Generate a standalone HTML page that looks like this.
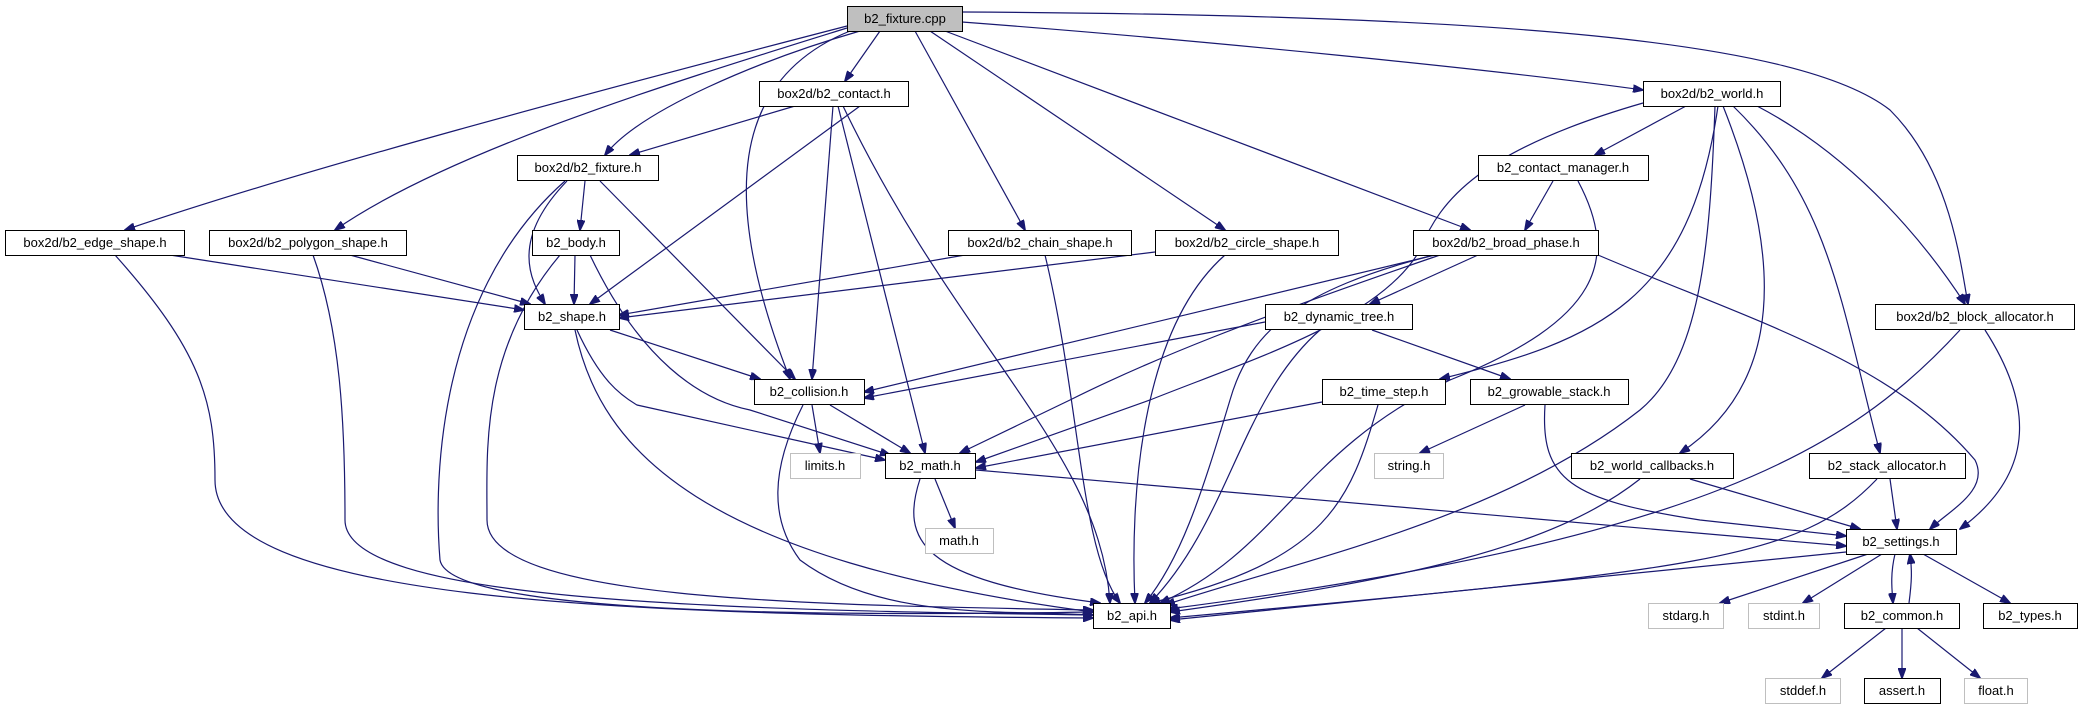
<!DOCTYPE html>
<html><head><meta charset="utf-8"><style>
html,body{margin:0;padding:0;background:#fff;}
svg{display:block;}
text{font-family:"Liberation Sans",sans-serif;font-size:13px;fill:#000;text-anchor:middle;}
</style></head><body>
<svg width="2078" height="709" viewBox="0 0 2078 709" xmlns="http://www.w3.org/2000/svg">
<defs>
<marker id="a" markerWidth="11" markerHeight="8" refX="10" refY="4" orient="auto" markerUnits="userSpaceOnUse">
<path d="M0,0 L11,4 L0,8 z" fill="#191970" stroke="#191970"/>
</marker>
</defs>
<g fill="none" stroke="#191970" stroke-width="1.2" marker-end="url(#a)">
<path d="M880,31 L845,81"/>
<path d="M962,22 C1200,40 1500,70 1643,90"/>
<path d="M860,31 C760,60 640,110 605,155"/>
<path d="M847,26 C600,90 300,170 125,230"/>
<path d="M847,28 C680,80 450,150 335,230"/>
<path d="M915,31 L1025,230"/>
<path d="M930,31 L1225,230"/>
<path d="M945,31 L1470,230"/>
<path d="M962,12 C1500,15 1800,40 1890,110 C1950,170 1960,260 1968,304"/>
<path d="M850,31 C730,80 720,200 790,379"/>
<path d="M795,106 L630,155"/>
<path d="M860,106 L590,304"/>
<path d="M833,106 L812,379"/>
<path d="M838,106 L925,453"/>
<path d="M843,106 C960,350 1100,450 1110,603"/>
<path d="M585,181 L580,230"/>
<path d="M567,181 C510,240 530,280 545,304"/>
<path d="M600,181 L795,379"/>
<path d="M565,181 C430,300 435,500 440,560 C450,620 900,615 1093,612"/>
<path d="M170,255 L524,310"/>
<path d="M115,255 C200,350 215,400 215,480 C215,600 600,615 1093,618"/>
<path d="M350,255 L530,304"/>
<path d="M313,255 C340,330 345,420 345,520 C345,600 700,610 1093,615"/>
<path d="M575,255 L574,304"/>
<path d="M590,255 C640,360 700,400 750,410 L890,455"/>
<path d="M560,255 C480,350 487,450 487,520 C487,600 800,605 1093,610"/>
<path d="M965,255 L619,315"/>
<path d="M1045,255 C1080,400 1080,550 1120,603"/>
<path d="M1155,252 L619,318"/>
<path d="M1225,255 C1140,330 1130,500 1135,603"/>
<path d="M1478,255 L1370,304"/>
<path d="M1435,255 L864,392"/>
<path d="M1440,255 C1250,320 1150,360 1070,400 L960,453"/>
<path d="M1430,256 C1300,290 1250,330 1230,400 C1200,500 1180,560 1145,603"/>
<path d="M1265,322 L864,398"/>
<path d="M1320,330 C1240,400 1230,520 1150,603"/>
<path d="M1372,330 L1510,379"/>
<path d="M1686,106 L1595,155"/>
<path d="M1643,103 C1480,150 1440,200 1420,250 C1380,320 1250,360 1150,400 L976,462"/>
<path d="M1718,106 C1690,300 1600,340 1440,379"/>
<path d="M1715,106 C1710,250 1700,360 1640,410 C1500,520 1300,560 1165,605"/>
<path d="M1723,106 C1800,300 1760,400 1680,453"/>
<path d="M1733,106 C1830,200 1840,300 1880,453"/>
<path d="M1757,106 C1860,160 1930,250 1965,304"/>
<path d="M1553,181 L1525,230"/>
<path d="M1578,181 C1620,260 1600,320 1450,380 C1300,450 1280,550 1160,603"/>
<path d="M1598,255 C1750,320 1890,360 1975,460 C1990,490 1950,510 1930,529"/>
<path d="M1985,330 C2030,400 2040,470 1960,529"/>
<path d="M1960,330 C1850,450 1700,540 1168,609"/>
<path d="M1322,402 L976,468"/>
<path d="M1378,405 C1350,500 1330,560 1150,603"/>
<path d="M1525,405 L1420,453"/>
<path d="M1545,405 C1540,480 1570,500 1700,520 L1846,536"/>
<path d="M812,405 L820,453"/>
<path d="M830,405 L910,453"/>
<path d="M803,405 C770,470 770,520 800,560 C880,620 1000,610 1093,615"/>
<path d="M610,330 L760,379"/>
<path d="M577,330 C600,380 620,395 637,405 L885,460"/>
<path d="M575,330 C600,450 700,560 1093,612"/>
<path d="M935,479 L955,528"/>
<path d="M920,479 C900,540 920,580 1100,603"/>
<path d="M976,470 L1846,546"/>
<path d="M1640,479 C1550,550 1400,580 1170,612"/>
<path d="M1690,479 L1860,529"/>
<path d="M1877,479 C1800,560 1700,570 1170,618"/>
<path d="M1890,479 L1897,529"/>
<path d="M1846,552 L1170,620"/>
<path d="M1868,554 L1720,603"/>
<path d="M1882,554 L1803,603"/>
<path d="M1895,554 C1890,575 1892,590 1893,603"/>
<path d="M1909,603 C1912,580 1912,570 1910,554"/>
<path d="M1923,554 L2010,603"/>
<path d="M1886,628 L1822,678"/>
<path d="M1902,628 L1902,678"/>
<path d="M1917,628 L1980,678"/>
</g>
<g stroke="#000" stroke-width="1" fill="#fff">
<rect x="847.5" y="6.5" width="115" height="25" fill="#bfbfbf"/>
<rect x="759.5" y="81.5" width="149" height="25"/>
<rect x="1643.5" y="81.5" width="137" height="25"/>
<rect x="517.5" y="155.5" width="141" height="25"/>
<rect x="1478.5" y="155.5" width="170" height="25"/>
<rect x="5.5" y="230.5" width="179" height="25"/>
<rect x="209.5" y="230.5" width="197" height="25"/>
<rect x="532.5" y="230.5" width="87" height="25"/>
<rect x="948.5" y="230.5" width="183" height="25"/>
<rect x="1155.5" y="230.5" width="183" height="25"/>
<rect x="1413.5" y="230.5" width="185" height="25"/>
<rect x="524.5" y="304.5" width="95" height="25"/>
<rect x="1265.5" y="304.5" width="147" height="25"/>
<rect x="1875.5" y="304.5" width="199" height="25"/>
<rect x="754.5" y="379.5" width="110" height="25"/>
<rect x="1322.5" y="379.5" width="123" height="25"/>
<rect x="1470.5" y="379.5" width="158" height="25"/>
<rect x="885.5" y="453.5" width="90" height="25"/>
<rect x="1571.5" y="453.5" width="162" height="25"/>
<rect x="1809.5" y="453.5" width="156" height="25"/>
<rect x="1846.5" y="529.5" width="110" height="25"/>
<rect x="1093.5" y="603.5" width="77" height="25"/>
<rect x="1844.5" y="603.5" width="115" height="25"/>
<rect x="1983.5" y="603.5" width="94" height="25"/>
<rect x="1864.5" y="678.5" width="76" height="25"/>
</g>
<g stroke="#bfbfbf" stroke-width="1" fill="#fff">
<rect x="790.5" y="453.5" width="70" height="25"/>
<rect x="1374.5" y="453.5" width="69" height="25"/>
<rect x="925.5" y="528.5" width="68" height="25"/>
<rect x="1648.5" y="603.5" width="75" height="25"/>
<rect x="1748.5" y="603.5" width="71" height="25"/>
<rect x="1765.5" y="678.5" width="75" height="25"/>
<rect x="1964.5" y="678.5" width="63" height="25"/>
</g>
<text x="905" y="23">b2_fixture.cpp</text>
<text x="834" y="98">box2d/b2_contact.h</text>
<text x="1712" y="98">box2d/b2_world.h</text>
<text x="588" y="172">box2d/b2_fixture.h</text>
<text x="1563" y="172">b2_contact_manager.h</text>
<text x="95" y="247">box2d/b2_edge_shape.h</text>
<text x="308" y="247">box2d/b2_polygon_shape.h</text>
<text x="576" y="247">b2_body.h</text>
<text x="1040" y="247">box2d/b2_chain_shape.h</text>
<text x="1247" y="247">box2d/b2_circle_shape.h</text>
<text x="1506" y="247">box2d/b2_broad_phase.h</text>
<text x="572" y="321">b2_shape.h</text>
<text x="1339" y="321">b2_dynamic_tree.h</text>
<text x="1975" y="321">box2d/b2_block_allocator.h</text>
<text x="809" y="396">b2_collision.h</text>
<text x="1384" y="396">b2_time_step.h</text>
<text x="1549" y="396">b2_growable_stack.h</text>
<text x="825" y="470">limits.h</text>
<text x="930" y="470">b2_math.h</text>
<text x="1409" y="470">string.h</text>
<text x="1652" y="470">b2_world_callbacks.h</text>
<text x="1887" y="470">b2_stack_allocator.h</text>
<text x="959" y="545">math.h</text>
<text x="1901" y="546">b2_settings.h</text>
<text x="1132" y="620">b2_api.h</text>
<text x="1686" y="620">stdarg.h</text>
<text x="1784" y="620">stdint.h</text>
<text x="1902" y="620">b2_common.h</text>
<text x="2030" y="620">b2_types.h</text>
<text x="1803" y="695">stddef.h</text>
<text x="1902" y="695">assert.h</text>
<text x="1996" y="695">float.h</text>
</svg>
</body></html>
